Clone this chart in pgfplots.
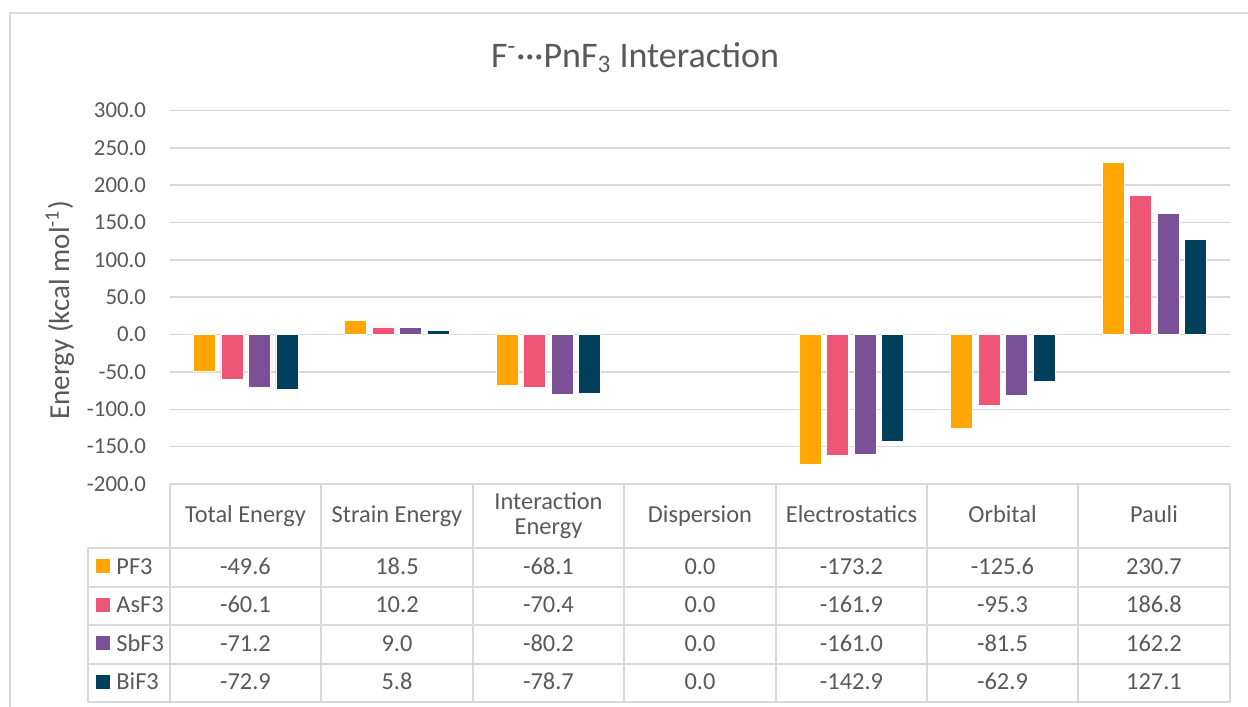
\documentclass[border=0pt]{standalone}
\usepackage{pgfplots}
\pgfplotsset{compat=1.18}
\usepackage{fontspec}
\setmainfont{Carlito}

\definecolor{txt}{HTML}{595959}
\definecolor{gridc}{HTML}{D9D9D9}
\definecolor{cPF}{HTML}{FFA600}
\definecolor{cAs}{HTML}{EF5675}
\definecolor{cSb}{HTML}{7A5195}
\definecolor{cBi}{HTML}{003F5C}

% categories: 0 Total, 1 Strain, 2 Interaction, 3 Dispersion (all 0.0), 4 Electrostatics, 5 Orbital, 6 Pauli
\begin{document}
\begin{tikzpicture}
  % picture frame in reference pixels (1 px = 0.5 pt, y downwards)
  \begin{scope}[x=0.5pt,y=-0.5pt]
    \path[use as bounding box] (0,0) rectangle (1248,707);
    \draw[gridc, line width=0.6pt] (10,710) -- (10,13) -- (1250,13);
    \node[txt, font=\fontsize{18}{22}\selectfont, anchor=base] at (635,67)
      {F\textsuperscript{-}···PnF\textsubscript{3} Interaction};
  \end{scope}

  \begin{axis}[
    at={(85pt,-242pt)}, anchor=south west,
    scale only axis, width=530pt, height=186.75pt,
    ymin=-200, ymax=300, xmin=-0.5, xmax=6.5,
    ytick distance=50,
    xtick=\empty,
    major tick length=0pt,
    axis line style={draw=none},
    ymajorgrids, grid style={gridc, line width=0.8pt},
    ybar=2.75pt, bar width=11pt,
    tick label style={font=\fontsize{11.4}{13}\selectfont, text=txt},
    yticklabel style={xshift=-8.5pt},
    /pgf/number format/.cd, fixed, zerofill, precision=1, assume math mode=true,
    /pgfplots/.cd,
    ylabel={Energy (kcal mol\textsuperscript{-1})},
    ylabel style={at={(axis description cs:-0.104,0.465)}, rotate=0, anchor=center,
      font=\fontsize{14.5}{17}\selectfont, text=txt},
  ]
    \addplot[fill=cPF, draw=white, line width=0.4pt] coordinates {(0,-49.6) (1,18.5) (2,-68.1) (4,-173.2) (5,-125.6) (6,230.7)};
    \addplot[fill=cAs, draw=white, line width=0.4pt] coordinates {(0,-60.1) (1,10.2) (2,-70.4) (4,-161.9) (5,-95.3) (6,186.8)};
    \addplot[fill=cSb, draw=white, line width=0.4pt] coordinates {(0,-71.2) (1,9.0) (2,-80.2) (4,-161.0) (5,-81.5) (6,162.2)};
    \addplot[fill=cBi, draw=white, line width=0.4pt] coordinates {(0,-72.9) (1,5.8) (2,-78.7) (4,-142.9) (5,-62.9) (6,127.1)};
  \end{axis}

  % data table below the plot
  \begin{scope}[x=0.5pt,y=-0.5pt, every node/.style={text=txt, font=\fontsize{12.2}{14}\selectfont}]
    \begin{scope}[gridc, line width=0.8pt]
      \draw (170,484) -- (1230,484);
      \foreach \yy in {548,587,625,664,702} \draw (88,\yy) -- (1230,\yy);
      \foreach \xx in {170,321,473,624,776,927,1078,1230} \draw (\xx,484) -- (\xx,702);
      \draw (88,548) -- (88,702);
    \end{scope}
    % header
    \node[anchor=base] at (245.5,522) {Total Energy};
    \node[anchor=base] at (397,522) {Strain Energy};
    \node[anchor=base] at (548.5,509) {Interaction};
    \node[anchor=base] at (548.5,534) {Energy};
    \node[anchor=base] at (700,522) {Dispersion};
    \node[anchor=base] at (851.5,522) {Electrostatics};
    \node[anchor=base] at (1002.5,522) {Orbital};
    \node[anchor=base] at (1154,522) {Pauli};
    % legend keys
    \foreach \c/\n/\yy in {cPF/PF3/574, cAs/AsF3/612.5, cSb/SbF3/651, cBi/BiF3/689.5}{
      \fill[\c] (96,\yy-1) rectangle (110,\yy-15);
      \node[anchor=base west, inner sep=0pt] at (116,\yy) {\n};
    }
    % values
    \foreach \r/\a/\b/\c/\d/\e/\f/\g in {
      574/-49.6/18.5/-68.1/0.0/-173.2/-125.6/230.7,
      612.5/-60.1/10.2/-70.4/0.0/-161.9/-95.3/186.8,
      651/-71.2/9.0/-80.2/0.0/-161.0/-81.5/162.2,
      689.5/-72.9/5.8/-78.7/0.0/-142.9/-62.9/127.1}{
      \node[anchor=base] at (245.5,\r) {\a};
      \node[anchor=base] at (397,\r) {\b};
      \node[anchor=base] at (548.5,\r) {\c};
      \node[anchor=base] at (700,\r) {\d};
      \node[anchor=base] at (851.5,\r) {\e};
      \node[anchor=base] at (1002.5,\r) {\f};
      \node[anchor=base] at (1154,\r) {\g};
    }
  \end{scope}
\end{tikzpicture}
\end{document}
